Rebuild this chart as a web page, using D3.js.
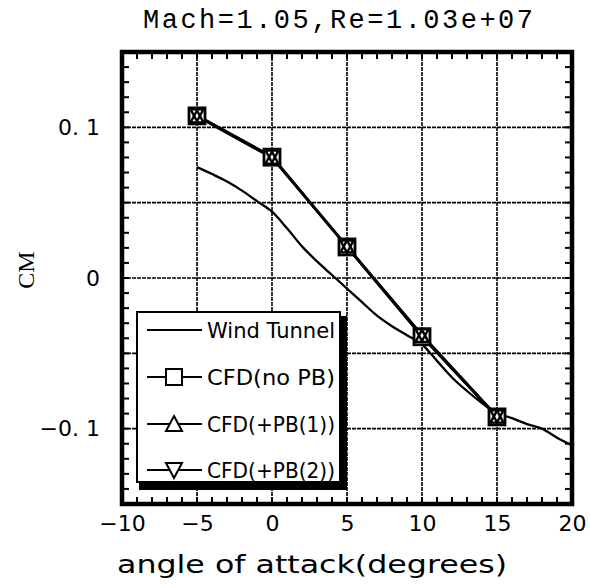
<!DOCTYPE html>
<html><head><meta charset="utf-8">
<script src="https://cdn.jsdelivr.net/npm/d3@7"></script>
<style>body{margin:0;background:#fff}svg{display:block}</style>
</head><body>
<svg id="chart" width="590" height="588"></svg>
<script>
// ---- data ----
const title = "Mach=1.05,Re=1.03e+07";
const xLabel = "angle of attack(degrees)";
const yLabel = "CM";
const xTicks = [-10, -5, 0, 5, 10, 15, 20];
const xTickLabels = ["\u221210", "\u22125", "0", "5", "10", "15", "20"];
const yTicks = [-0.1, 0, 0.1];
const yTickLabels = ["\u22120. 1", "0", "0. 1"];
const xGrid = [-5, 0, 5, 10, 15];
const yGrid = [-0.1, -0.05, 0, 0.05, 0.1];

const windAlpha = [-5, -4, -3, -2, -1, 0, 1, 2, 3, 4, 5, 6, 7, 8, 9, 10, 11, 12, 13, 14, 15, 16, 17, 18, 19, 20];
const windCM = [0.0736, 0.069, 0.064, 0.058, 0.051, 0.044, 0.033, 0.021, 0.011, 0.002, -0.007, -0.016, -0.025, -0.032, -0.038, -0.044, -0.055, -0.066, -0.075, -0.083, -0.090, -0.093, -0.097, -0.100, -0.106, -0.111];

const cfdAlpha = [-5, 0, 5, 10, 15];
const cfdNoPB = [0.1076, 0.0802, 0.0206, -0.0390, -0.0922];
const cfdPB1 = [0.1072, 0.0798, 0.0210, -0.0384, -0.0920];
const cfdPB2 = [0.1080, 0.0806, 0.0208, -0.0378, -0.0918];

const legendNames = ["Wind Tunnel", "CFD(no PB)", "CFD(+PB(1))", "CFD(+PB(2))"];

// ---- layout ----
const svg = d3.select("#chart");
const L = 122, R = 572, T = 52, B = 504;
const x = d3.scaleLinear().domain([-10, 20]).range([L, R]);
const y = d3.scaleLinear().domain([-0.15, 0.15]).range([B, T]);
const SANS = "DejaVu Sans, Verdana, sans-serif";

// grid
const g = svg.append("g");
g.selectAll(".gx").data(xGrid).enter().append("line")
  .attr("x1", d => x(d)).attr("x2", d => x(d)).attr("y1", T).attr("y2", B)
  .attr("stroke", "#000").attr("stroke-width", 1.6).attr("stroke-dasharray", "4,1");
g.selectAll(".gy").data(yGrid).enter().append("line")
  .attr("y1", d => y(d)).attr("y2", d => y(d)).attr("x1", L).attr("x2", R)
  .attr("stroke", "#000").attr("stroke-width", 1.6).attr("stroke-dasharray", "4,1");

// minor inside ticks
const xMinor = d3.range(-9, 20, 1);
const yMinor = d3.range(-14, 15, 1).map(v => v / 100);
const tk = svg.append("g").attr("stroke", "#000").attr("stroke-width", 2);
xMinor.forEach(v => {
  tk.append("line").attr("x1", x(v)).attr("x2", x(v)).attr("y1", B).attr("y2", B - 7);
  tk.append("line").attr("x1", x(v)).attr("x2", x(v)).attr("y1", T).attr("y2", T + 7);
});
yMinor.forEach(v => {
  tk.append("line").attr("y1", y(v)).attr("y2", y(v)).attr("x1", L).attr("x2", L + 7);
  tk.append("line").attr("y1", y(v)).attr("y2", y(v)).attr("x1", R).attr("x2", R - 7);
});

// axes labels via d3 axes
const xAxis = d3.axisBottom(x).tickValues(xTicks).tickSize(0).tickPadding(11)
  .tickFormat((d, i) => xTickLabels[i]);
const xa = svg.append("g").attr("transform", `translate(0,${B})`).call(xAxis)
  .attr("font-family", SANS).attr("font-size", 22);
xa.select(".domain").remove();
xa.selectAll("text").attr("fill", "#000");

const yAxis = d3.axisLeft(y).tickValues(yTicks).tickSize(0).tickPadding(22)
  .tickFormat((d, i) => yTickLabels[i]);
const ya = svg.append("g").attr("transform", `translate(${L},0)`).call(yAxis)
  .attr("font-family", SANS).attr("font-size", 22);
ya.select(".domain").remove();
ya.selectAll("text").attr("fill", "#000");

// data lines
const lineW = d3.line().x((d, i) => x(windAlpha[i])).y(d => y(d)).curve(d3.curveMonotoneX);
svg.append("path").datum(windCM).attr("d", lineW).attr("fill", "none").attr("stroke", "#000").attr("stroke-width", 2.3);

const lineC = d3.line().x((d, i) => x(cfdAlpha[i])).y(d => y(d));
[cfdNoPB, cfdPB1, cfdPB2].forEach(s => {
  svg.append("path").datum(s).attr("d", lineC).attr("fill", "none").attr("stroke", "#000").attr("stroke-width", 2.6);
});

// markers
const sq = 16;
function drawMarker(gp, kind) {
  if (kind === "sq") {
    gp.append("rect").attr("x", -sq / 2).attr("y", -sq / 2).attr("width", sq).attr("height", sq)
      .attr("fill", "#fff").attr("stroke", "#000").attr("stroke-width", 2.8);
  } else if (kind === "up") {
    gp.append("path").attr("d", "M0,-6L6.5,6L-6.5,6Z").attr("fill", "none").attr("stroke", "#000").attr("stroke-width", 2.4);
  } else if (kind === "down") {
    gp.append("path").attr("d", "M0,6L6.5,-6L-6.5,-6Z").attr("fill", "none").attr("stroke", "#000").attr("stroke-width", 2.4);
  }
}
const mk = svg.append("g");
[[cfdNoPB, "sq"], [cfdPB1, "up"], [cfdPB2, "down"]].forEach(([s, k]) => {
  s.forEach((v, i) => {
    const gp = mk.append("g").attr("transform", `translate(${x(cfdAlpha[i])},${y(v)})`);
    drawMarker(gp, k);
  });
});

// frame
svg.append("rect").attr("x", L).attr("y", T).attr("width", R - L).attr("height", B - T)
  .attr("fill", "none").attr("stroke", "#000").attr("stroke-width", 4.5);

// legend
const lg = svg.append("g");
lg.append("rect").attr("x", 139).attr("y", 316).attr("width", 208).attr("height", 174).attr("fill", "#000");
lg.append("rect").attr("x", 137).attr("y", 312).attr("width", 203).attr("height", 170)
  .attr("fill", "#fff").attr("stroke", "#000").attr("stroke-width", 2);
const rowY = [330, 377, 424, 470];
const kinds = [null, "sq", "up", "down"];
legendNames.forEach((name, i) => {
  lg.append("line").attr("x1", 147).attr("x2", 202).attr("y1", rowY[i]).attr("y2", rowY[i])
    .attr("stroke", "#000").attr("stroke-width", 2.2);
  if (kinds[i]) {
    const gp = lg.append("g").attr("transform", `translate(174,${rowY[i]})`);
    if (kinds[i] === "sq") {
      gp.append("rect").attr("x", -8).attr("y", -8).attr("width", 16).attr("height", 16)
        .attr("fill", "#fff").attr("stroke", "#000").attr("stroke-width", 2);
    } else if (kinds[i] === "up") {
      gp.append("path").attr("d", "M0,-8L8,7L-8,7Z").attr("fill", "#fff").attr("stroke", "#000").attr("stroke-width", 2);
    } else {
      gp.append("path").attr("d", "M0,8L8,-7L-8,-7Z").attr("fill", "#fff").attr("stroke", "#000").attr("stroke-width", 2);
    }
  }
  lg.append("text").attr("x", 207).attr("y", rowY[i] + 8).text(name)
    .attr("font-family", SANS).attr("font-size", 21).attr("fill", "#000")
    .attr("textLength", 128).attr("lengthAdjust", "spacingAndGlyphs");
});

// title
svg.append("text").attr("x", 338).attr("y", 28).attr("text-anchor", "middle").text(title)
  .attr("font-family", "Courier New, Liberation Mono, monospace").attr("font-size", 27).attr("fill", "#000")
  .attr("textLength", 390).attr("lengthAdjust", "spacing");

// x label
svg.append("text").attr("x", 312).attr("y", 573).attr("text-anchor", "middle").text(xLabel)
  .attr("font-family", SANS).attr("font-size", 24).attr("fill", "#000")
  .attr("textLength", 390).attr("lengthAdjust", "spacingAndGlyphs");

// y label
svg.append("text").attr("transform", "translate(34,270) rotate(-90)").attr("text-anchor", "middle").text(yLabel)
  .attr("font-family", "Liberation Serif, Times New Roman, serif").attr("font-size", 24).attr("fill", "#000");
</script>
</body></html>
